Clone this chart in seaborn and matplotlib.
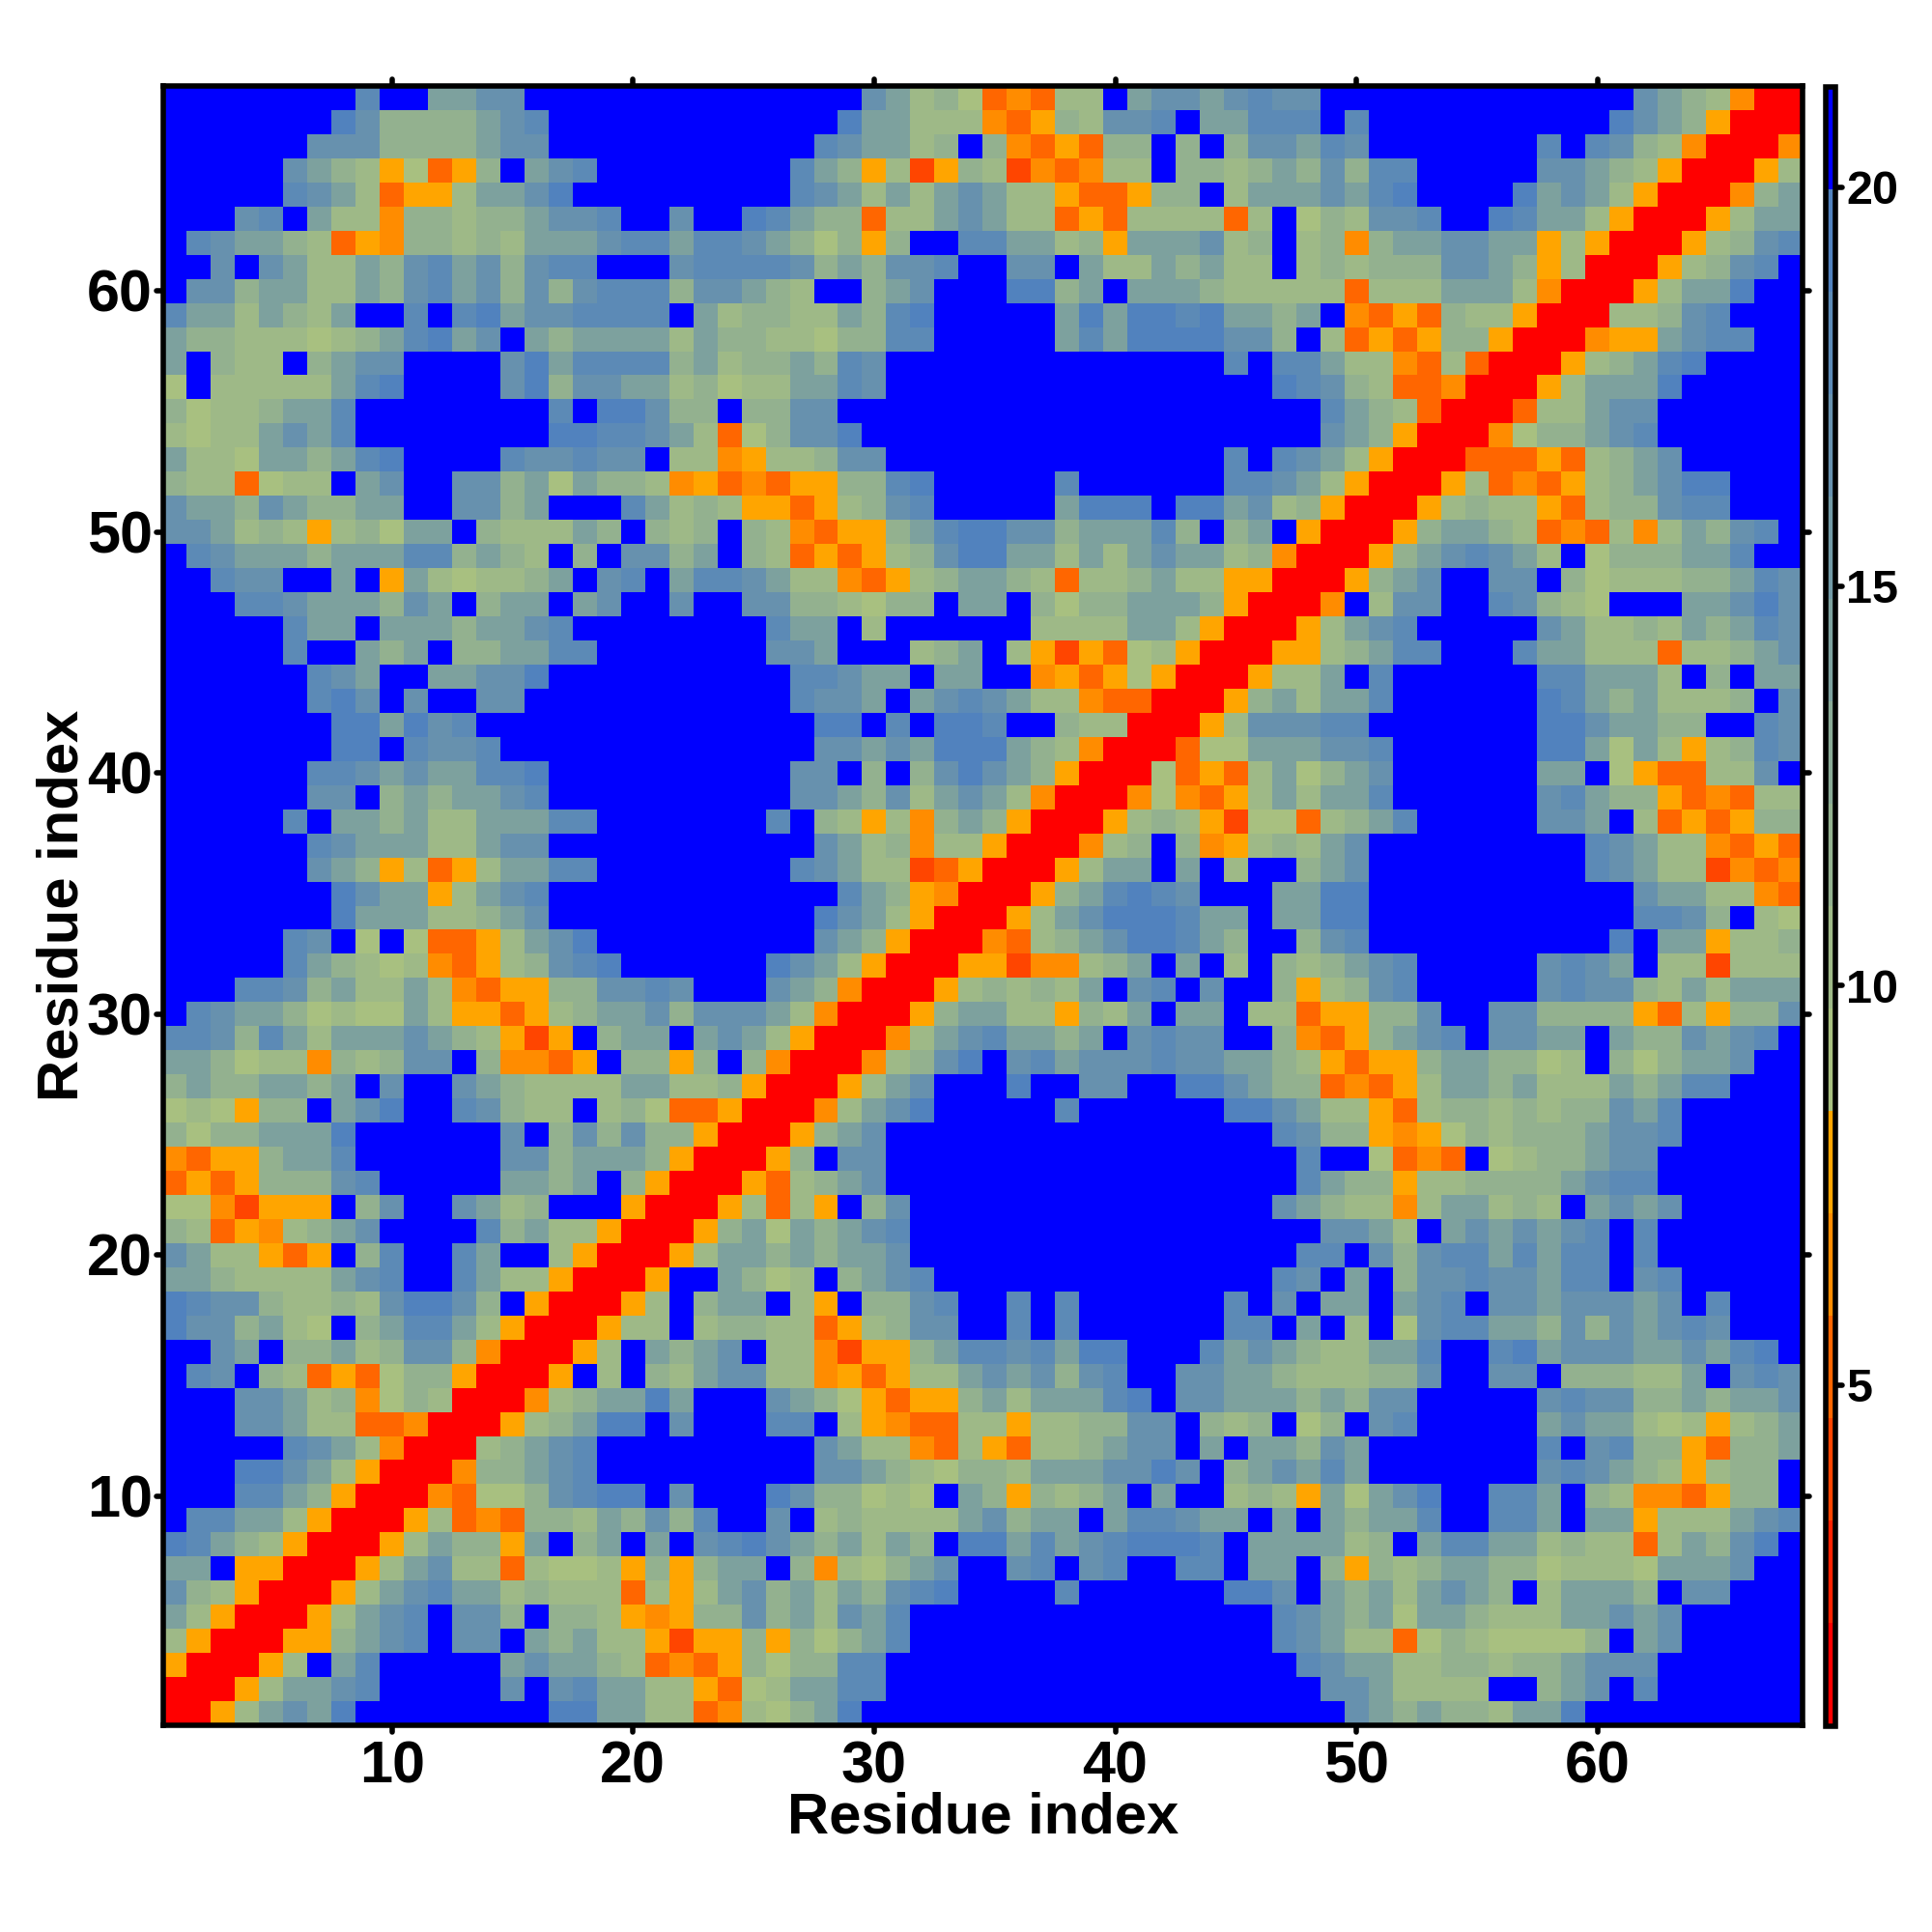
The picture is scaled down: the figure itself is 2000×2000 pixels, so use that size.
import matplotlib
matplotlib.use("Agg")
import matplotlib.pyplot as plt
import matplotlib.markers as mmarkers
from matplotlib.colors import ListedColormap, BoundaryNorm
from matplotlib.transforms import ScaledTranslation
import numpy as np
import pandas as pd
import seaborn as sns

# Distance class read for every residue pair, top row (residue 68) first, columns 1..68.
ROWS = [
"BBBBBBBB6B B4455BBBBB BBBBBBBBB5 4231dod22B 45545655BB BBBBBBBBBB B5432oRR",
"BBBBBBB753 333456BBBB BBBBBBBB74 4222ody325 56B44666B6 BBBBBBBBBB 7543yRRR",
"BBBBBB5553 333455BBBB BBBBBBB654 423B3odyd3 3B3B355465 BBBBBBB6B6 532oRRRo",
"BBBBB5432y 1dy3B456BB BBBBBB643y 2ey32eodo2 2B33234353 66BBBBB554 32yRRRy2",
"BBBBB6542d yy24457BBB BBBBBB6542 4245422ydd y33B244454 67BBBB7454 2yRRRo34",
"BBB56B422o 332334556B B5BB76433d 2245422dyd 2222d2B132 556BB76442 yRRRy244",
"B654432dyo 3323244456 646654313y 3BB664423y 444523B23o 3445544y2y RRRy2356",
"BB5B542243 56453566BB B566665343 556BB55B42 243422B232 3335543y2R RRy2356B",
"B553442243 5645353566 6355432BB3 45BBB7734B 444322222d 2224442oRR Ry2447BB",
"64424324BB 6B67455666 6B42332243 67BBBBB474 77674434Bo dyd322yRRR 22356BBB",
"4332221234 6745B43444 4243322133 66BBBBB464 7777553B2d ydy33yRRRo yy4566BB",
"4B322B3455 BBBB574666 6342334365 BBBBBBBBBB BBBB6B6642 2od2dRRRy2 3467BBBB",
"1B22222467 BBBB573554 4231224465 BBBBBBBBBB BBBBBB7653 2ddoRRRy24 447BBBBB",
"31223446BB BBBBBB6B77 533B3355BB BBBBBBBBBB BBBBBBBB64 32dRRRd224 55BBBBBB",
"21224546BB BBBBBB7766 542d13557B BBBBBBBBBB BBBBBBBB54 3yRRRo1334 56BBBBBB",
"4221443467 BBBB655655 B22oy22355 BBBBBBBBBB BBBB6B6542 yRRRdddyd2 345BBBBB",
"322d122B45 BB55341433 2oydodyy33 67BBBBB6BB BBBB66542y RRRy2dody2 34577BBB",
"5443543344 BB5534BBB6 4232yydy23 56BBBBB477 7B774523yR RRy2322yd2 33566BBB",
"554232y231 44B322243B 323B32odyy 3467755344 463B34ByRR Ry34432dod 2o24356B",
"B654443444 663432B3B5 534B32dydy 2357744242 454423oRRR y3456542B1 333446BB",
"BB655BB4By 4212234B56 B4665422od y234432d22 3422yyRRRy 345BB55B31 22233465",
"BBB6654443 54B344B45B B5BB553321 33B44B3133 4443yRRRoB 255BB65321 BBB44575",
"BBBBB644B4 4434456BBB BBBBB644B2 BBBBBB2222 442yRRRy24 56BBBBB542 23243465",
"BBBBB6BB43 4B334466BB BBBBB554BB B234B2yeyd 12yRRRyy23 466BBB6442 22d22345",
"BBBBBB654B B44557BBBB BBBBBB6654 4B44BBoydy 1yRRRy224B 6BBBBBB664 442B3B44",
"BBBBBB675B 5BB55BBBBB BBBBBB6554 B4565422od dRRRy34244 6BBBBBB764 342223B5",
"BBBBBBB774 756BBBBBBB BBBBBBB77B 6B776BB322 RRRy255566 BBBBBBB775 4433BB65",
"BBBBBBB77B 6556BBBBBB BBBBBBB554 54777432oR RRd1144455 6BBBBBB774 142y2365",
"BBBBBB6654 544667BBBB BBBBBB55B3 B357543yRR R1dyd24134 5BBBBBB44B 1ydd225B",
"BBBBBB55B3 434456BBBB BBBBBB5543 524542oRRR o1ody24244 6BBBBBB564 33ydod22",
"BBBBB6B443 42244466BB BBBBB6B32y 2o343yRRRy 232ye11d23 46BBBBB554 B2dydy33",
"BBBBBB6544 422455BBBB BBBBBBB542 3o22yRRRo2 3B3oy23245 BBBBBBBBB6 5422odyd",
"BBBBBB543y 2dy24466BB BBBBBB6542 2edyRRRy24 4B4B2BB345 BBBBBBBBB6 5422eodo",
"BBBBBBB754 4y2456BBBB BBBBBBBB64 3yoRRRy346 765BBB4477 BBBBBBBBBB B54422od",
"BBBBBBB744 422345BBBB BBBBBBB754 2yRRRy2457 77644B4477 BBBBBBBBBB B6653B21",
"BBBBB65B1B 1ddy2457BB BBBBBBB543 yRRRod2345 77643BB356 BBBBBBBBBB 7B44y223",
"BBBBB64321 2ody23567B BBBBB7542y RRRyyeoo23 4B4B2B3234 56BBBBB565 4B22e222",
"BBB6653422 42odyy3355 65BBB543oR RRy232324B 56B5BB3y23 56BBBBB565 53242444",
"B654431211 42yydy2344 5355542oRR Ry34422y32 4B44B22dyy 335BB55333 3yd2y335",
"6653642444 5432yeyB34 4B4542yRRR o24564434B 5655BB3ody 3456B5544B 4335456B",
"443122o323 55B3oodyB3 3y3B3oRRRo 2357B56455 56554432yd yy3443312B 313445BB",
"34334434B5 BB54322224 4223yRRRy2 45BBB7BB55 BB775433do dy24434222 43466BBB",
"121y33B457 BB65322B23 1ddyRRRo24 57BBBBB6BB BBBB775422 yd23323233 546BBBBB",
"31334447BB BBBB5B3535 33yRRRy345 BBBBBBBBBB BBBBBB6533 yoy1323334 556BBBBB",
"odyy3446BB BBBB553444 3yRRRy3B55 BBBBBBBBBB BBBBBBB6BB 1dodB12334 55BBBBBB",
"dydy33356B BBBB4434B3 yRRRyd2345 BBBBBBBBBB BBBBBBB643 3y22333345 66BBBBBB",
"11oeyyyB35 BB5423BBBy RRRy2d2yB3 5BBBBBBBBB BBBBBB5432 2o244232B4 545BBBBB",
"32dyo2345B BBB63422yR RRy3414345 6BBBBBBBBB BBBBBBBB55 42B4545456 B6BBBBBB",
"5422ydyB36 BB64BB2yRR Ry24434344 5BBBBBBBBB BBBBBBB66B 5356646466 B6BBBBBB",
"4432222456 BB6422yRRR yBB4312B34 56BBBBBBBB BBBBBB65B4 B355655466 B56BBBBB",
"7655322325 7753ByRRRy 2B344B2yB3 356BB6B6BB BBBB6B5B44 B456B55455 545B6BBB",
"7553421B34 6642yRRRy2 2B23322dy2 355BB6B6BB BBBB66B4B2 B156644353 54565BBB",
"BB54B33423 553oRRRy2B 4345B22oey y346656477 BBB6454322 446BB67455 5445467B",
"B65B32dyd1 33yRRRyB2B 3245522oyd y224545356 BB55443222 335BB55B33 3224B565",
"BBB55423o1 32RRRo2344 74BBB5431y dyy3424446 7B55444343 55BBBBB565 53343445",
"BBB55422dd oRRRy23477 B5BBB66B2y odd22y2233 55B323B13B 56BBBBB454 4212y234",
"BBBBB6542o RRR23456BB BBBBBBB542 2od2yd2234 55B4B44354 BBBBBBB6B5 633yd334",
"BBB77542yR RRo33456BB BBBBBBB554 3213324445 575B345464 BBBBBBB565 432y233B",
"BBB6643yRR Rod1135677 B5BBB75331 21B43y3234 B4BB232y41 457BB664B3 2oody33B",
"B66442yRRR y2dod33243 536BB5B232 22245344B4 66544B4B43 446BB664B4 4y222456",
"76432yRRRy 2433y4B34B 4B56754342 43B7746456 7776B44442 3B46644232 2d24357B",
"44ByyRRRy2 4522d2112y 3y344B3o21 345BB56B56 BB66B44B3y 3234433122 214445BB",
"532yRRRy24 564423222d 2y24534243 567BBBB6BB BBBB775B43 424543B244 43B55BBB",
"42yRRRy245 6B553B332y oy33534254 6BBBBBBBBB BBBBBB6543 4144322244 545BBBBB",
"2yRRRyy345 6B55B43422 yeyy3y3134 6BBBBBBBBB BBBBBB6542 2d13211113 B45BBBBB",
"yRRRy2B46B BBBB454432 dody313366 BBBBBBBBBB BBBBBBB654 4223323345 55BBBBBB",
"RRRy24456B BBBB5B5644 22yd124466 BBBBBBBBBB BBBBBBBB55 42222BB345 B6BBBBBB",
"RRy24547BB BBBBBB7744 22do21347B BBBBBBBBBB BBBBBBBBB5 434332447B BBBBBBBB",
]
CLASS_VALUES = {"R": 1.4, "e": 3.9, "d": 5.2, "o": 6.5, "y": 7.8,
                "1": 9.1, "2": 10.4, "3": 11.7, "4": 14.2, "5": 16.8,
                "6": 18.1, "7": 19.4, "B": 20.6}
RESIDUES = list(range(1, 69))
AXIS_TICKS = [10, 20, 30, 40, 50, 60]
CBAR_TICKS = [5, 10, 15, 20]
CBAR_MIN, CBAR_MAX = 0.73, 21.26

rows = [r.replace(" ", "") for r in ROWS]
bad = [(i, len(r)) for i, r in enumerate(rows) if len(r) != 68]
assert not bad and len(rows) == 68, (bad, len(rows))
matrix = np.array([[CLASS_VALUES[c] for c in r] for r in rows])
df = pd.DataFrame(matrix, index=RESIDUES[::-1], columns=RESIDUES)

colors = ["#ff0000", "#ff2200", "#ff4500", "#ff6600", "#ff8c00", "#ffa500",
          "#a8c080", "#9eb987", "#93b18f", "#89aa96", "#7da19e", "#729aa6",
          "#6791ae", "#5c8ab6", "#5182be", "#0000ff"]
cmap = ListedColormap(colors)
norm = BoundaryNorm(np.linspace(CBAR_MIN, CBAR_MAX, 17), cmap.N)

sns.set_theme(style="white")
plt.rcParams["font.family"] = ["Liberation Sans", "DejaVu Sans"]
plt.rcParams["font.weight"] = "bold"

S = 2000.0
fig = plt.figure(figsize=(10, 10), dpi=200)
def box(x0, x1, y0, y1):
    return [x0 / S, 1 - y1 / S, (x1 - x0) / S, (y1 - y0) / S]
ax = fig.add_axes(box(168.5, 1866, 89, 1786))
cax = fig.add_axes(box(1889.5, 1900, 89.5, 1786.5))

sns.heatmap(df, ax=ax, cmap=cmap, norm=norm, cbar_ax=cax, square=False,
            cbar_kws={"ticks": CBAR_TICKS, "spacing": "proportional"},
            linewidths=0, rasterized=True)

SP = 2.0
for s in ax.spines.values():
    s.set_visible(True)
    s.set_linewidth(SP)
    s.set_color("black")
    s.set_zorder(5)

pos = [t - 0.5 for t in AXIS_TICKS]
ax.set_xticks(pos, [str(t) for t in AXIS_TICKS], rotation=0)
ax.set_yticks([68 - t + 0.5 for t in AXIS_TICKS], [str(t) for t in AXIS_TICKS], rotation=0)
ax.tick_params(axis="both", which="major", length=2.6, width=2, color="black",
               labelsize=22, bottom=True, top=True, left=True, right=True,
               labelcolor="black")
ax.tick_params(axis="x", pad=3)
ax.tick_params(axis="y", pad=1.3)
cax.tick_params(axis="y", which="major", length=2.6, width=2, color="black",
                labelsize=17.5, pad=1.5, right=True, labelcolor="black")
cax.minorticks_off()

for axis_obj, m1, m2 in [(ax.xaxis, mmarkers.TICKDOWN, mmarkers.TICKUP),
                         (ax.yaxis, mmarkers.TICKLEFT, mmarkers.TICKRIGHT),
                         (cax.yaxis, mmarkers.TICKLEFT, mmarkers.TICKRIGHT)]:
    for t in axis_obj.get_major_ticks():
        t.tick1line.set_marker(mmarkers.MarkerStyle(m1, capstyle="round"))
        t.tick2line.set_marker(mmarkers.MarkerStyle(m2, capstyle="round"))

shift = ScaledTranslation(0, -6 / 200, fig.dpi_scale_trans)
for lab in ax.get_yticklabels():
    lab.set_transform(lab.get_transform() + shift)

cb = ax.collections[0].colorbar
cb.outline.set_linewidth(SP)
cb.outline.set_edgecolor("black")
cb.solids.set_rasterized(True)

ax.set_xlabel("Residue index", fontsize=21.5, fontweight="bold", color="black", va="center")
ax.set_ylabel("Residue index", fontsize=21.5, fontweight="bold", color="black", va="center")
ax.xaxis.set_label_coords(0.5, -(1882 - 1786) / 1697.0)
ax.yaxis.set_label_coords(-(168.5 - 65) / 1697.5, 0.5)

fig.savefig("out.png", dpi=200, facecolor="white")
